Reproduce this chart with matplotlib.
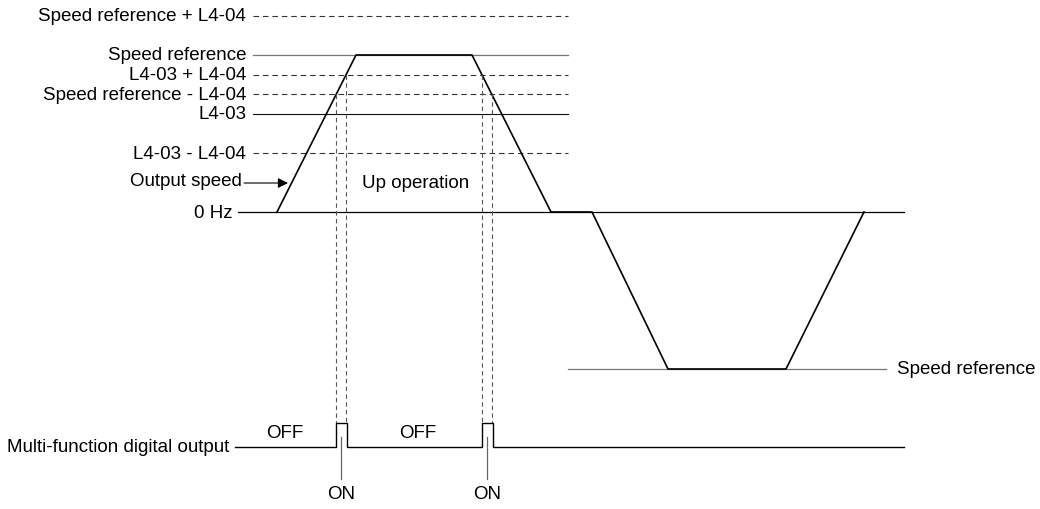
import numpy as np
import matplotlib.pyplot as plt

plt.rcParams["font.family"] = ["Liberation Sans", "DejaVu Sans"]

# Output speed profile (time in arbitrary units, speed in % of speed reference)
time_pts = [277, 356, 472, 551, 592, 668, 786, 864]
speed_pts = [0, 100, 100, 0, 0, -100, -100, 0]

speed_ref = 100
l4_03 = 62.5
l4_04 = 25

levels = [
    ("Speed reference + L4-04", speed_ref + l4_04, "dashed"),
    ("Speed reference", speed_ref, "ref"),
    ("L4-03 + L4-04", l4_03 + l4_04, "dashed"),
    ("Speed reference - L4-04", speed_ref - l4_04, "dashed"),
    ("L4-03", l4_03, "solid"),
    ("L4-03 - L4-04", l4_03 - l4_04, "dashed"),
]

# layout (pixel-like x, speed-unit y)
X_LABEL = 246
X_LVL0, X_LVL1 = 253, 568
X_ZERO0, X_ZERO1 = 238, 904
PX = 1.57  # pixels per speed unit
def py(pix):
    return (212 - pix) / PX

TXT_DY = -1.0 / PX  # nudge labels down ~1px
DIG_LOW = py(447)
DIG_HIGH = py(423)

fig = plt.figure(figsize=(10.4, 5.09), dpi=100)
ax = fig.add_axes([0, 0, 1, 1])
ax.set_xlim(0, 1040)
ax.set_ylim(py(509), py(0))
ax.axis("off")

FS = 13.5
dash = (0, (5, 3.5))

# threshold lines
for name, val, kind in levels:
    if kind == "dashed":
        ax.plot([X_LVL0, X_LVL1], [val, val], color="#333333", lw=0.8, ls=dash)
    elif kind == "ref":
        ax.plot([X_LVL0, X_LVL1], [val, val], color="#777777", lw=0.9)
    else:
        ax.plot([X_LVL0, X_LVL1], [val, val], color="#111111", lw=0.8)
    ax.text(X_LABEL, val + TXT_DY, name, ha="right", va="center", fontsize=FS)

# 0 Hz line
ax.plot([X_ZERO0, X_ZERO1], [0, 0], color="black", lw=0.9)
ax.text(233, 0 + TXT_DY, "0 Hz", ha="right", va="center", fontsize=FS)

# negative speed reference
ax.plot([568, 886], [-speed_ref, -speed_ref], color="#777777", lw=0.9)
ax.text(897, -speed_ref + TXT_DY, "Speed reference", ha="left", va="center", fontsize=FS)

# output speed
ax.plot(time_pts, speed_pts, color="black", lw=1.2)

ax.text(242, py(182), "Output speed", ha="right", va="center", fontsize=FS)
ax.annotate("", xy=(288, py(183)), xytext=(244, py(183)),
            arrowprops=dict(arrowstyle="-|>", color="black", lw=0.8,
                            mutation_scale=15, shrinkA=0, shrinkB=0))
ax.text(362, py(183), "Up operation", ha="left", va="center", fontsize=FS)

# crossing times on accel and decel ramps
lo = speed_ref - l4_04
hi = l4_03 + l4_04
acc_t = np.sort(np.interp([lo, hi], speed_pts[0:2], time_pts[0:2]))
dec_t = np.sort(np.interp([hi, lo], [speed_pts[3], speed_pts[2]], [time_pts[3], time_pts[2]]))
pulses = [tuple(acc_t), tuple(dec_t)]

for (t0, t1), lv0, lv1 in [(pulses[0], lo, hi), (pulses[1], hi, lo)]:
    ax.plot([t0, t0], [lv0, DIG_HIGH], color="#555555", lw=0.8, ls=(0, (4, 3)))
    ax.plot([t1, t1], [lv1, DIG_HIGH], color="#555555", lw=0.8, ls=(0, (4, 3)))

# digital output trace
dx = [X_ZERO0 - 3]
dy = [DIG_LOW]
for t0, t1 in pulses:
    dx += [t0, t0, t1 + 1, t1 + 1]
    dy += [DIG_LOW, DIG_HIGH, DIG_HIGH, DIG_LOW]
dx.append(X_ZERO1)
dy.append(DIG_LOW)
ax.plot(dx, dy, color="black", lw=1.0)
ax.text(229, DIG_LOW + TXT_DY, "Multi-function digital output", ha="right", va="center", fontsize=FS)

ax.text(285, py(434), "OFF", ha="center", va="center", fontsize=FS)
ax.text(418, py(434), "OFF", ha="center", va="center", fontsize=FS)
for t0, t1 in pulses:
    xc = (t0 + t1) / 2
    ax.plot([xc, xc], [py(437), py(479)], color="#666666", lw=0.9)
    ax.text(xc, py(495), "ON", ha="center", va="center", fontsize=FS)

fig.savefig("out.png", dpi=100)
